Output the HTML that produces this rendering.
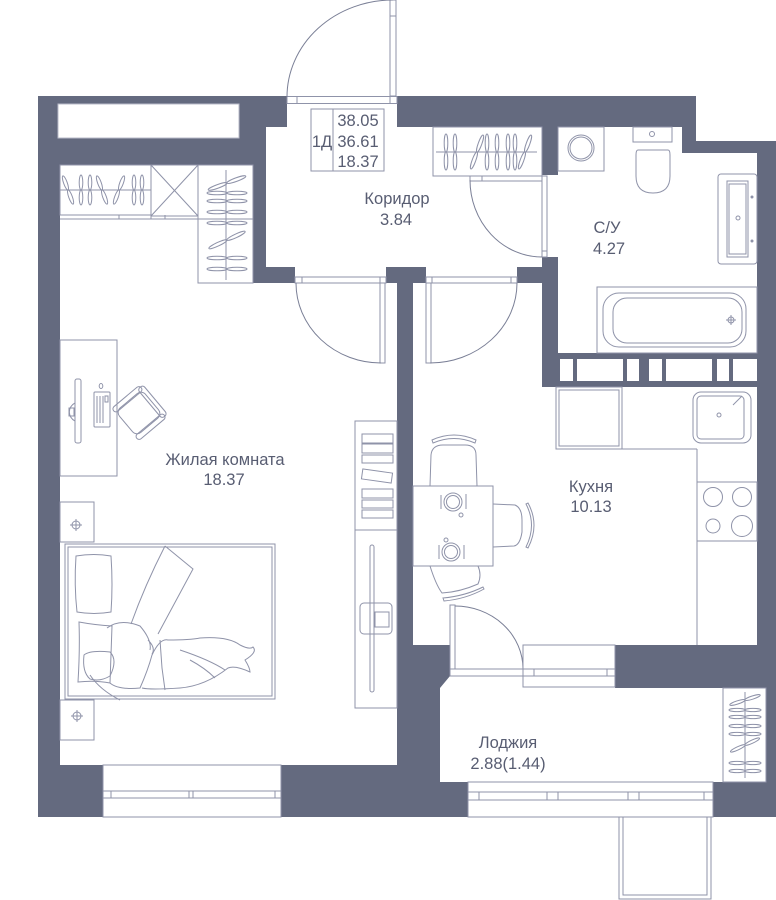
<!DOCTYPE html>
<html><head><meta charset="utf-8">
<style>
html,body{margin:0;padding:0;background:#fff;}
svg{display:block;}
text{font-family:"Liberation Sans",Arial,sans-serif;fill:#585d72;font-size:16.5px;}
</style></head>
<body>
<svg width="776" height="900" viewBox="0 0 776 900" xmlns="http://www.w3.org/2000/svg">
<rect width="776" height="900" fill="#fff"/>
<!-- walls -->
<g fill="#646a7f">
<rect x="38" y="96" width="249" height="31"/>
<rect x="38" y="127" width="228" height="38"/>
<rect x="38" y="165" width="22" height="652"/>
<rect x="253" y="165" width="13" height="118"/>
<rect x="253" y="267" width="42" height="16"/>
<rect x="397" y="96" width="299" height="31"/>
<rect x="682" y="96" width="14" height="57"/>
<rect x="682" y="141" width="94" height="12"/>
<rect x="757" y="141" width="19" height="547"/>
<rect x="542" y="127" width="16" height="48"/>
<rect x="542" y="257" width="16" height="130"/>
<rect x="542" y="353" width="234" height="34"/>
<rect x="386" y="267" width="40" height="16"/>
<rect x="517" y="267" width="41" height="16"/>
<rect x="397" y="267" width="16" height="378"/>
<polygon points="397,645 450,645 450,676 440,688 440,782 468,782 468,817 281,817 281,765 397,765"/>
<rect x="38" y="765" width="65" height="52"/>
<rect x="615" y="645" width="161" height="43"/>
<rect x="766" y="688" width="10" height="129"/>
<rect x="713" y="782" width="63" height="35"/>
</g>
<!-- bathroom wall slots -->
<g fill="#fff">
<rect x="560" y="359" width="13" height="22"/>
<rect x="577" y="359" width="46" height="22"/>
<rect x="627" y="359" width="12" height="22"/>
<rect x="649" y="359" width="13" height="22"/>
<rect x="666" y="359" width="46" height="22"/>
<rect x="717" y="359" width="12" height="22"/>
<rect x="733" y="359" width="24" height="22"/>
</g>
<!-- top-left white strip -->
<rect x="58" y="104" width="181" height="34" fill="#fff" stroke="#b8bbc9" stroke-width="1"/>

<g fill="none" stroke="#8f93a9" stroke-width="1">
<!-- entrance door -->
<rect x="287" y="96.5" width="110" height="7" fill="#fff"/>
<line x1="297" y1="96.5" x2="297" y2="103.5"/>
<line x1="390" y1="96.5" x2="390" y2="103.5"/>
<rect x="390" y="0" width="6" height="96" fill="#fff"/>
<line x1="390" y1="16" x2="396" y2="16"/>
<path d="M287,97 A106,97 0 0 1 393,0" stroke="#7a7f96"/>

<!-- area box -->
<rect x="311" y="109" width="73" height="62"/>
<line x1="333" y1="109" x2="333" y2="171"/>

<!-- top-left wardrobe -->
<rect x="60" y="165" width="91" height="50"/>
<line x1="60" y1="190" x2="151" y2="190"/>
<line x1="60" y1="219" x2="253" y2="219"/>
<line x1="119" y1="215" x2="119" y2="219"/>
<line x1="151" y1="215" x2="151" y2="219"/>
<line x1="165" y1="215" x2="165" y2="219"/>
<rect x="151" y="165" width="47" height="51"/>
<line x1="151" y1="165" x2="198" y2="216"/>
<line x1="198" y1="165" x2="151" y2="216"/>
<rect x="198" y="165" width="55" height="118"/>
<line x1="226" y1="170" x2="226" y2="280"/>
<!-- hangers top-left -->
<g transform="translate(68,190) rotate(-20)"><ellipse cx="0" cy="-7.5" rx="1.8" ry="7.5"/><ellipse cx="0" cy="7.5" rx="1.8" ry="7.5"/></g>
<g transform="translate(81,190)"><ellipse cx="0" cy="-7.5" rx="1.8" ry="7.5"/><ellipse cx="0" cy="7.5" rx="1.8" ry="7.5"/></g>
<g transform="translate(90,190)"><ellipse cx="0" cy="-7.5" rx="1.8" ry="7.5"/><ellipse cx="0" cy="7.5" rx="1.8" ry="7.5"/></g>
<g transform="translate(102,190) rotate(-20)"><ellipse cx="0" cy="-7.5" rx="1.8" ry="7.5"/><ellipse cx="0" cy="7.5" rx="1.8" ry="7.5"/></g>
<g transform="translate(119,190) rotate(20)"><ellipse cx="0" cy="-7.5" rx="1.8" ry="7.5"/><ellipse cx="0" cy="7.5" rx="1.8" ry="7.5"/></g>
<g transform="translate(134,190)"><ellipse cx="0" cy="-7.5" rx="1.8" ry="7.5"/><ellipse cx="0" cy="7.5" rx="1.8" ry="7.5"/></g>
<g transform="translate(142,190)"><ellipse cx="0" cy="-7.5" rx="1.8" ry="7.5"/><ellipse cx="0" cy="7.5" rx="1.8" ry="7.5"/></g>
<!-- hangers right wardrobe -->
<g transform="translate(227,183) rotate(70)"><ellipse cx="0" cy="-10" rx="1.8" ry="10"/><ellipse cx="0" cy="10" rx="1.8" ry="10"/></g>
<g transform="translate(227,193) rotate(90)"><ellipse cx="0" cy="-10" rx="1.8" ry="10"/><ellipse cx="0" cy="10" rx="1.8" ry="10"/></g>
<g transform="translate(227,201) rotate(90)"><ellipse cx="0" cy="-10" rx="1.8" ry="10"/><ellipse cx="0" cy="10" rx="1.8" ry="10"/></g>
<g transform="translate(227,212) rotate(90)"><ellipse cx="0" cy="-10" rx="1.8" ry="10"/><ellipse cx="0" cy="10" rx="1.8" ry="10"/></g>
<g transform="translate(227,223) rotate(90)"><ellipse cx="0" cy="-10" rx="1.8" ry="10"/><ellipse cx="0" cy="10" rx="1.8" ry="10"/></g>
<g transform="translate(227,240) rotate(65)"><ellipse cx="0" cy="-10" rx="1.8" ry="10"/><ellipse cx="0" cy="10" rx="1.8" ry="10"/></g>
<g transform="translate(227,258) rotate(90)"><ellipse cx="0" cy="-10" rx="1.8" ry="10"/><ellipse cx="0" cy="10" rx="1.8" ry="10"/></g>
<g transform="translate(227,269) rotate(90)"><ellipse cx="0" cy="-10" rx="1.8" ry="10"/><ellipse cx="0" cy="10" rx="1.8" ry="10"/></g>

<!-- corridor wardrobe -->
<rect x="433" y="127" width="109" height="49"/>
<line x1="436" y1="152" x2="537" y2="152"/>
<g transform="translate(446,152)"><ellipse cx="0" cy="-9" rx="1.8" ry="9"/><ellipse cx="0" cy="9" rx="1.8" ry="9"/></g>
<g transform="translate(455,152)"><ellipse cx="0" cy="-9" rx="1.8" ry="9"/><ellipse cx="0" cy="9" rx="1.8" ry="9"/></g>
<g transform="translate(477,152) rotate(20)"><ellipse cx="0" cy="-9" rx="1.8" ry="9"/><ellipse cx="0" cy="9" rx="1.8" ry="9"/></g>
<g transform="translate(487,152)"><ellipse cx="0" cy="-9" rx="1.8" ry="9"/><ellipse cx="0" cy="9" rx="1.8" ry="9"/></g>
<g transform="translate(497,152)"><ellipse cx="0" cy="-9" rx="1.8" ry="9"/><ellipse cx="0" cy="9" rx="1.8" ry="9"/></g>
<g transform="translate(508,152)"><ellipse cx="0" cy="-9" rx="1.8" ry="9"/><ellipse cx="0" cy="9" rx="1.8" ry="9"/></g>
<g transform="translate(515,152)"><ellipse cx="0" cy="-9" rx="1.8" ry="9"/><ellipse cx="0" cy="9" rx="1.8" ry="9"/></g>
<g transform="translate(525,152) rotate(20)"><ellipse cx="0" cy="-9" rx="1.8" ry="9"/><ellipse cx="0" cy="9" rx="1.8" ry="9"/></g>

<!-- bathroom door -->
<rect x="470" y="176" width="72" height="5"/>
<line x1="482" y1="176" x2="482" y2="181"/>
<rect x="542" y="176" width="5" height="81"/>
<line x1="542" y1="251" x2="547" y2="251"/>
<path d="M470,180 A72,77 0 0 0 542,257" stroke="#7a7f96"/>

<!-- bedroom door -->
<rect x="295" y="277" width="91" height="6" fill="#fff"/>
<line x1="302" y1="277" x2="302" y2="283"/>
<line x1="380" y1="277" x2="380" y2="283"/>
<rect x="380" y="283" width="5" height="80" fill="#fff"/>
<path d="M296,283 A85,80 0 0 0 381,363" stroke="#7a7f96"/>

<!-- kitchen door -->
<rect x="426" y="277" width="91" height="6" fill="#fff"/>
<line x1="432" y1="277" x2="432" y2="283"/>
<line x1="511" y1="277" x2="511" y2="283"/>
<rect x="426" y="283" width="5" height="80" fill="#fff"/>
<path d="M430,363 A87,80 0 0 0 517,283" stroke="#7a7f96"/>

<!-- bathroom -->
<rect x="558" y="127" width="46" height="44"/>
<circle cx="581" cy="148" r="13"/>
<circle cx="581" cy="148" r="11"/>
<rect x="633" y="127" width="39" height="15"/>
<circle cx="652" cy="134" r="2.5"/>
<path d="M638,150 L668,150 Q670,150 670,155 L670,176 Q670,193 653,193 Q636,193 636,176 L636,155 Q636,150 638,150 Z"/>
<rect x="718" y="174" width="39" height="90" rx="3"/>
<rect x="727" y="181" width="21" height="76"/>
<rect x="729" y="184" width="17" height="70"/>
<circle cx="738" cy="218" r="2"/>
<circle cx="752" cy="197" r="1" fill="#8f93a9"/>
<circle cx="752" cy="241" r="1" fill="#8f93a9"/>
<rect x="597" y="287" width="160" height="66"/>
<rect x="603" y="293" width="143" height="54" rx="16"/>
<rect x="613" y="298" width="129" height="45" rx="14"/>
<circle cx="731" cy="320" r="3"/>
<line x1="726" y1="320" x2="736" y2="320"/>
<line x1="731" y1="315" x2="731" y2="325"/>

<!-- bedroom furniture -->
<rect x="60" y="340" width="57" height="136"/>
<rect x="75" y="379" width="6" height="64" rx="2"/>
<path d="M75,403 A10,10 0 0 0 75,421"/>
<rect x="69" y="408" width="5" height="8"/>
<ellipse cx="101" cy="386" rx="1.8" ry="2.5"/>
<rect x="94" y="392" width="16" height="35" rx="1"/>
<line x1="97" y1="396" x2="97" y2="423"/>
<line x1="100" y1="396" x2="100" y2="423"/>
<line x1="103" y1="396" x2="103" y2="423"/>
<rect x="105" y="396" width="3" height="6"/>
<g transform="translate(139,413) rotate(-40)">
<rect x="-17" y="-16" width="34" height="32" rx="6"/>
<rect x="-18" y="-21" width="36" height="6" rx="3"/>
<rect x="-18" y="15" width="36" height="6" rx="3"/>
<rect x="14" y="-19" width="7" height="38" rx="3"/>
</g>
<rect x="60" y="502" width="34" height="40"/>
<circle cx="76" cy="525" r="4"/>
<line x1="70" y1="525" x2="82" y2="525"/>
<line x1="76" y1="519" x2="76" y2="531"/>
<rect x="60" y="700" width="34" height="40"/>
<circle cx="77" cy="716" r="4"/>
<line x1="71" y1="716" x2="83" y2="716"/>
<line x1="77" y1="710" x2="77" y2="722"/>
<rect x="65" y="544" width="210" height="155"/>
<rect x="68" y="547" width="204" height="149"/>
<path d="M76,556 Q94,553 111,556 Q113,585 111,612 Q94,615 77,612 Q74,585 76,556 Z"/>
<path d="M79,622 Q95,625 112,626 L110,683 Q95,680 78,682 Q80,650 79,622 Z"/>
<path d="M165,546 L193,569 L158,634"/>
<path d="M165,546 Q145,585 131,624"/>
<path d="M110,683 Q118,690 140,688 Q148,670 152,655 Q160,638 168,640 Q190,640 200,638 Q228,636 240,645 Q250,650 253,647 Q258,652 245,660 Q250,668 250,672 Q235,665 228,668 Q205,686 180,688 Q150,690 142,688"/>
<path d="M84,655 Q90,650 110,652 Q118,660 110,676 Q100,682 90,679 Q82,672 84,655 Z"/>
<path d="M107,628 Q120,618 140,626 Q152,640 150,650 M148,640 Q156,648 152,654"/>
<path d="M160,640 L162,668 L165,690"/>
<path d="M180,650 Q210,660 225,670 M190,660 Q205,668 215,678"/>
<path d="M90,675 Q100,690 120,700"/>
<rect x="355" y="421" width="42" height="109"/>
<rect x="362" y="434" width="31" height="9"/>
<rect x="362" y="444" width="31" height="9"/>
<rect x="362" y="455" width="31" height="8"/>
<g transform="translate(377,476) rotate(8)"><rect x="-15" y="-5" width="30" height="10"/></g>
<rect x="362" y="489" width="31" height="9"/>
<rect x="362" y="500" width="31" height="8"/>
<rect x="362" y="510" width="31" height="8"/>
<rect x="355" y="530" width="42" height="178"/>
<rect x="370" y="545" width="4" height="147" rx="2"/>
<rect x="360" y="603" width="32" height="31" rx="4"/>
<rect x="375" y="612" width="14" height="15"/>

<!-- bedroom window -->
<rect x="103" y="765" width="178" height="52" fill="#fff"/>
<line x1="103" y1="791" x2="281" y2="791"/>
<line x1="103" y1="798" x2="281" y2="798"/>
<line x1="111" y1="791" x2="111" y2="798"/>
<line x1="189" y1="791" x2="189" y2="798"/>
<line x1="193" y1="791" x2="193" y2="798"/>
<line x1="275" y1="791" x2="275" y2="798"/>

<!-- kitchen -->
<rect x="556" y="387" width="66" height="62"/>
<rect x="559" y="390" width="60" height="56"/>
<line x1="622" y1="449" x2="697" y2="449"/>
<line x1="697" y1="449" x2="697" y2="645"/>
<rect x="693" y="392" width="58" height="51" rx="8"/>
<rect x="697" y="396" width="47" height="43" rx="4"/>
<circle cx="719" cy="415" r="2"/>
<line x1="733" y1="405" x2="742" y2="396"/>
<rect x="697" y="482" width="60" height="59"/>
<circle cx="713" cy="497" r="9.5"/>
<circle cx="742" cy="497" r="9.5"/>
<circle cx="713" cy="526" r="7"/>
<circle cx="742" cy="526" r="10.5"/>
<rect x="413" y="486" width="80" height="80"/>
<path d="M430,486 L431,455 Q432,445 443,445 L465,445 Q476,445 476,455 L477,486"/>
<path d="M432,440 Q454,430 476,440 L475,443 Q454,434 433,443 Z"/>
<path d="M493,504 L515,505 Q522,508 522,520 L522,532 Q520,545 514,546 L493,547"/>
<path d="M526,504 Q537,525 526,547 L528,548 Q540,525 528,503 Z"/>
<path d="M430,566 Q436,585 442,593 Q460,592 478,584 Q482,575 478,566"/>
<path d="M443,598 Q465,596 483,587 L484,589 Q466,599 444,601 Z"/>
<circle cx="453" cy="502" r="9"/>
<circle cx="453" cy="502" r="6.5"/>
<line x1="441" y1="495" x2="441" y2="509"/>
<line x1="466" y1="494" x2="466" y2="509"/>
<circle cx="461" cy="515" r="2"/>
<circle cx="451" cy="552" r="9"/>
<circle cx="451" cy="552" r="6.5"/>
<line x1="439" y1="545" x2="439" y2="559"/>
<line x1="464" y1="545" x2="464" y2="559"/>
<circle cx="446" cy="540" r="2"/>

<!-- kitchen-loggia door -->
<rect x="450" y="669" width="73" height="7" fill="#fff"/>
<rect x="450" y="605" width="5" height="64"/>
<path d="M455,606 A68,63 0 0 1 523,669" stroke="#7a7f96"/>
<!-- kitchen window -->
<rect x="523" y="645" width="92" height="42" fill="#fff"/>
<line x1="523" y1="669" x2="615" y2="669"/>
<line x1="523" y1="676" x2="615" y2="676"/>
<line x1="534" y1="669" x2="534" y2="676"/>
<line x1="607" y1="669" x2="607" y2="676"/>

<!-- loggia cabinet -->
<rect x="723" y="688" width="43" height="94"/>
<line x1="745" y1="692" x2="745" y2="778"/>
<g transform="translate(745,700) rotate(72)"><ellipse cx="0" cy="-8" rx="1.6" ry="8"/><ellipse cx="0" cy="8" rx="1.6" ry="8"/></g>
<g transform="translate(745,710) rotate(90)"><ellipse cx="0" cy="-8" rx="1.6" ry="8"/><ellipse cx="0" cy="8" rx="1.6" ry="8"/></g>
<g transform="translate(745,717) rotate(90)"><ellipse cx="0" cy="-8" rx="1.6" ry="8"/><ellipse cx="0" cy="8" rx="1.6" ry="8"/></g>
<g transform="translate(745,726) rotate(90)"><ellipse cx="0" cy="-8" rx="1.6" ry="8"/><ellipse cx="0" cy="8" rx="1.6" ry="8"/></g>
<g transform="translate(745,734) rotate(90)"><ellipse cx="0" cy="-8" rx="1.6" ry="8"/><ellipse cx="0" cy="8" rx="1.6" ry="8"/></g>
<g transform="translate(745,745) rotate(65)"><ellipse cx="0" cy="-8" rx="1.6" ry="8"/><ellipse cx="0" cy="8" rx="1.6" ry="8"/></g>
<g transform="translate(745,763) rotate(90)"><ellipse cx="0" cy="-8" rx="1.6" ry="8"/><ellipse cx="0" cy="8" rx="1.6" ry="8"/></g>
<g transform="translate(745,771) rotate(90)"><ellipse cx="0" cy="-8" rx="1.6" ry="8"/><ellipse cx="0" cy="8" rx="1.6" ry="8"/></g>

<!-- loggia window -->
<rect x="468" y="782" width="245" height="35" fill="#fff"/>
<line x1="468" y1="792" x2="713" y2="792"/>
<line x1="468" y1="800" x2="713" y2="800"/>
<line x1="479" y1="792" x2="479" y2="800"/>
<line x1="547" y1="792" x2="547" y2="800"/>
<line x1="558" y1="792" x2="558" y2="800"/>
<line x1="628" y1="792" x2="628" y2="800"/>
<line x1="639" y1="792" x2="639" y2="800"/>
<line x1="704" y1="792" x2="704" y2="800"/>
<!-- balcony -->
<rect x="619" y="817" width="92" height="82"/>
<rect x="623" y="817" width="84" height="78"/>
</g>

<!-- labels -->
<text x="358" y="126" text-anchor="middle">38.05</text>
<text x="358" y="147" text-anchor="middle">36.61</text>
<text x="358" y="167" text-anchor="middle">18.37</text>
<text x="322" y="147" text-anchor="middle">1Д</text>
<text x="397" y="204" text-anchor="middle">Коридор</text>
<text x="396" y="225" text-anchor="middle">3.84</text>
<text x="607" y="233" text-anchor="middle">С/У</text>
<text x="609" y="254" text-anchor="middle">4.27</text>
<text x="225" y="465" text-anchor="middle">Жилая комната</text>
<text x="224" y="485" text-anchor="middle">18.37</text>
<text x="591" y="492" text-anchor="middle">Кухня</text>
<text x="591" y="512" text-anchor="middle">10.13</text>
<text x="508" y="748" text-anchor="middle">Лоджия</text>
<text x="508" y="769" text-anchor="middle">2.88(1.44)</text>
</svg>
</body></html>
